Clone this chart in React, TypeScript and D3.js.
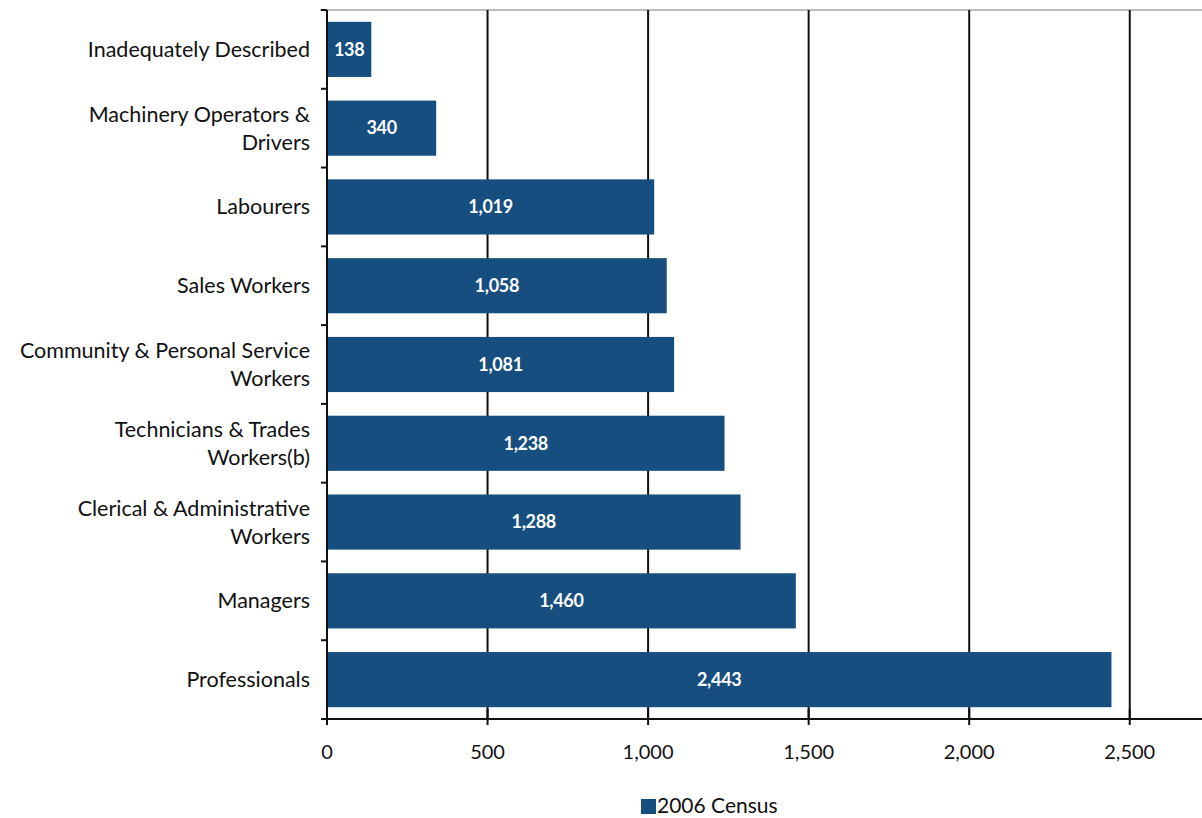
import React from "react";
import * as d3 from "d3";

const categories: string[][] = [
  ["Inadequately Described"],
  ["Machinery Operators &", "Drivers"],
  ["Labourers"],
  ["Sales Workers"],
  ["Community & Personal Service", "Workers"],
  ["Technicians & Trades", "Workers(b)"],
  ["Clerical & Administrative", "Workers"],
  ["Managers"],
  ["Professionals"],
];
const values: number[] = [138, 340, 1019, 1058, 1081, 1238, 1288, 1460, 2443];
const xTicks: number[] = [0, 500, 1000, 1500, 2000, 2500];
const seriesName = "2006 Census";

const W = 1202;
const H = 818;
const left = 327;
const right = 1202;
const top = 10;
const bottom = 719;
const barColor = "#174e80";
const font = "Lato, 'Open Sans', sans-serif";

export default function App() {
  const x = d3.scaleLinear().domain([0, 2725]).range([left, right]);
  const y = d3
    .scaleBand<number>()
    .domain(d3.range(categories.length))
    .range([top, bottom])
    .paddingInner(0.3)
    .paddingOuter(0.15);
  const fmt = d3.format(",");
  const step = y.step();
  return (
    <div style={{ position: "fixed", left: 0, top: 0, width: W, height: H, overflow: "hidden" }}>
      <svg width={W} height={H} style={{ display: "block", background: "#fff" }}>
        <line x1={320} x2={W} y1={top} y2={top} stroke="#bdbdbd" strokeWidth={2} />
        {xTicks.slice(1).map((t) => (
          <line key={"g" + t} x1={x(t)} x2={x(t)} y1={top} y2={bottom} stroke="#111" strokeWidth={2} />
        ))}
        {values.map((v, i) => (
          <g key={i}>
            <rect x={x(0)} y={y(i)} width={x(v) - x(0)} height={y.bandwidth()} fill={barColor} />
            <text
              x={(x(0) + x(v)) / 2}
              y={y(i)! + y.bandwidth() / 2}
              dy="0.35em"
              textAnchor="middle"
              fill="#fff"
              fontFamily={font}
              fontWeight={700}
              fontSize={18}
              letterSpacing={-0.3}
            >
              {fmt(v)}
            </text>
          </g>
        ))}
        {/* left axis */}
        <line x1={left} x2={left} y1={top} y2={bottom + 4} stroke="#111" strokeWidth={2} />
        {d3.range(categories.length + 1).map((k) => (
          <line key={"lt" + k} x1={left - 6} x2={left} y1={top + k * step} y2={top + k * step} stroke="#111" strokeWidth={2} />
        ))}
        {categories.map((lines, i) => {
          const cy = y(i)! + y.bandwidth() / 2;
          const lh = 28;
          const start = cy - ((lines.length - 1) * lh) / 2;
          return (
            <text key={"c" + i} textAnchor="end" fontFamily={font} fontSize={21.5} fill="#111">
              {lines.map((l, j) => (
                <tspan key={j} x={310} y={start + j * lh} dy="0.35em">
                  {l}
                </tspan>
              ))}
            </text>
          );
        })}
        {/* bottom axis */}
        <line x1={left - 6} x2={W} y1={bottom} y2={bottom} stroke="#111" strokeWidth={2} />
        {xTicks.map((t) => (
          <g key={"xt" + t}>
            <line x1={x(t)} x2={x(t)} y1={bottom - 10} y2={bottom + 6} stroke="#111" strokeWidth={2} />
            <text x={x(t)} y={752} dy="0.35em" textAnchor="middle" fontFamily={font} fontSize={20} fill="#111">
              {fmt(t)}
            </text>
          </g>
        ))}
        {/* legend */}
        <rect x={641} y={799} width={15} height={15} fill={barColor} />
        <text x={657} y={806} dy="0.35em" fontFamily={font} fontSize={21} fill="#111">
          {seriesName}
        </text>
      </svg>
    </div>
  );
}
